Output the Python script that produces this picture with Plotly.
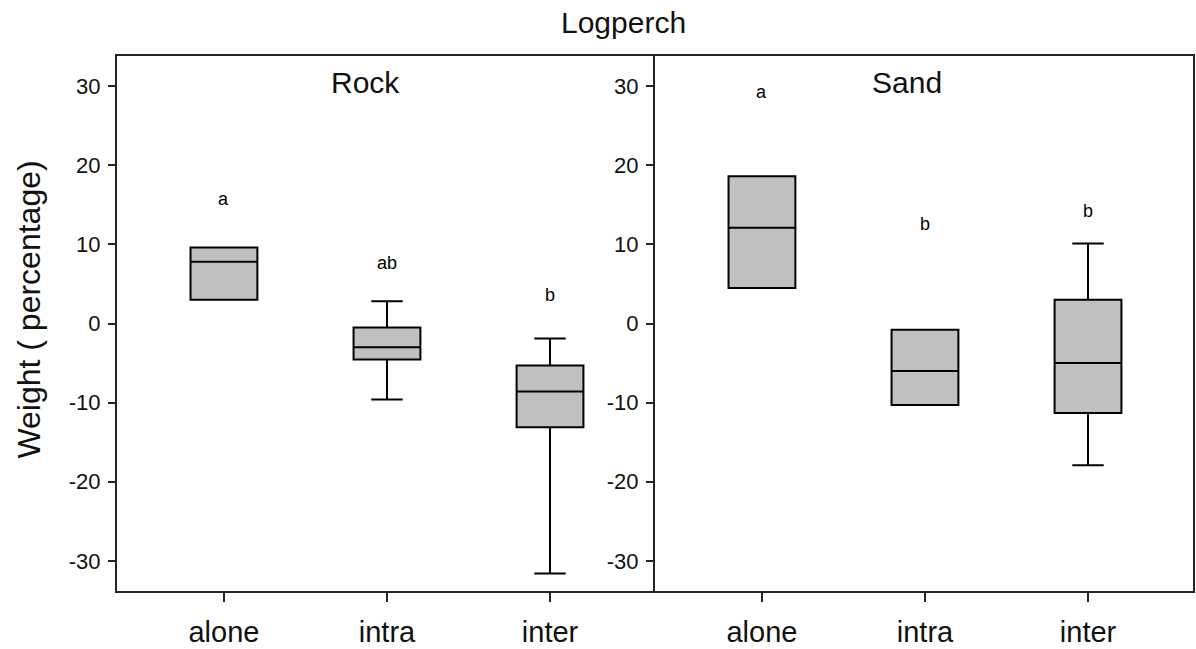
import plotly.graph_objects as go

categories = ["alone", "intra", "inter"]

# Rock panel summary statistics
rock_q1 = [3.0, -4.55, -13.1]
rock_median = [7.8, -3.0, -8.6]
rock_q3 = [9.6, -0.5, -5.3]
rock_lower = [3.0, -9.6, -31.6]
rock_upper = [9.6, 2.8, -1.9]
rock_letters = ["a", "ab", "b"]
rock_letter_y = [15.7, 7.7, 3.6]

# Sand panel summary statistics
sand_q1 = [4.5, -10.3, -11.3]
sand_median = [12.1, -6.0, -5.0]
sand_q3 = [18.6, -0.8, 3.0]
sand_lower = [4.5, -10.3, -17.9]
sand_upper = [18.6, -0.8, 10.1]
sand_letters = ["a", "b", "b"]
sand_letter_y = [29.3, 12.6, 14.2]

y_ticks = [-30, -20, -10, 0, 10, 20, 30]
y_tick_text = ["-30", "-20", "-10", "0", "10", "20", "30"]

FONT = "Liberation Sans, Arial, sans-serif"
FILL = "#c0c0c0"
LINE = "#000000"
AXC = "#262626"

fig = go.Figure()

fig.add_trace(go.Box(
    x=categories, q1=rock_q1, median=rock_median, q3=rock_q3,
    lowerfence=rock_lower, upperfence=rock_upper,
    xaxis="x", yaxis="y", fillcolor=FILL,
    line=dict(color=LINE, width=2), width=0.41, whiskerwidth=0.47,
    boxpoints=False, showlegend=False, hoverinfo="skip"))

fig.add_trace(go.Box(
    x=categories, q1=sand_q1, median=sand_median, q3=sand_q3,
    lowerfence=sand_lower, upperfence=sand_upper,
    xaxis="x2", yaxis="y2", fillcolor=FILL,
    line=dict(color=LINE, width=2), width=0.41, whiskerwidth=0.47,
    boxpoints=False, showlegend=False, hoverinfo="skip"))

annotations = []
for c, t, yv in zip(categories, rock_letters, rock_letter_y):
    annotations.append(dict(x=c, y=yv, xref="x", yref="y", text=t, showarrow=False,
                            font=dict(family=FONT, size=18, color="#000")))
for c, t, yv in zip(categories, sand_letters, sand_letter_y):
    annotations.append(dict(x=c, y=yv, xref="x2", yref="y2", text=t, showarrow=False,
                            font=dict(family=FONT, size=18, color="#000")))

annotations += [
    dict(x=0.231, y=0.9496, xref="paper", yref="paper", text="Rock", showarrow=False,
         xanchor="center", yanchor="middle", font=dict(family=FONT, size=30, color="#111")),
    dict(x=0.7338, y=0.9496, xref="paper", yref="paper", text="Sand", showarrow=False,
         xanchor="center", yanchor="middle", font=dict(family=FONT, size=30, color="#111")),
    dict(x=0.4703, y=1.063, xref="paper", yref="paper", text="Logperch", showarrow=False,
         xanchor="center", yanchor="middle", font=dict(family=FONT, size=30, color="#111")),
    dict(x=0, y=0.526, xref="paper", yref="paper", text="Weight ( percentage)", showarrow=False,
         xanchor="center", yanchor="middle", xshift=-88, textangle=-90,
         font=dict(family=FONT, size=32, color="#111")),
]

xcommon = dict(type="category", categoryorder="array", categoryarray=categories,
               range=[-0.656, 2.644], showline=True, linecolor=AXC, linewidth=2,
               mirror=True, ticks="outside", ticklen=9, tickwidth=2, tickcolor=AXC,
               showgrid=False, zeroline=False, ticklabelstandoff=5,
               tickfont=dict(family=FONT, size=29, color="#111"))
ycommon = dict(range=[-33.8, 33.8], tickvals=y_ticks, ticktext=y_tick_text,
               showline=True, linecolor=AXC,
               linewidth=2, ticks="outside", ticklen=7, tickwidth=2,
               tickcolor=AXC, showgrid=False, zeroline=False, ticklabelstandoff=3,
               tickfont=dict(family=FONT, size=22, color="#111"))

fig.update_layout(
    width=1196, height=649, autosize=False,
    margin=dict(l=117, r=1, t=56, b=57),
    paper_bgcolor="white", plot_bgcolor="white",
    xaxis=dict(domain=[0, 0.5], anchor="y", **xcommon),
    xaxis2=dict(domain=[0.5, 1], anchor="y2", **xcommon),
    yaxis=dict(anchor="x", mirror=False, **ycommon),
    yaxis2=dict(anchor="x2", mirror=True, **ycommon),
    annotations=annotations,
)

fig.write_html(
    "out.html",
    config={"responsive": False, "displayModeBar": False},
    post_script="document.body.style.margin='0px';document.body.style.overflow='hidden';",
)
